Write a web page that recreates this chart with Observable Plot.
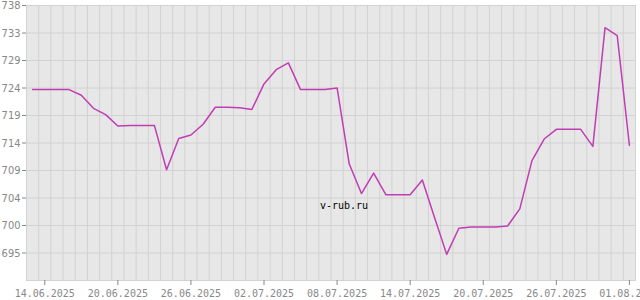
<!DOCTYPE html>
<html>
<head>
<meta charset="utf-8">
<script src="https://cdn.jsdelivr.net/npm/d3@7"></script>
<script src="https://cdn.jsdelivr.net/npm/@observablehq/plot@0.6"></script>
<style>
  html, body { margin: 0; padding: 0; background: white; }
</style>
</head>
<body>
<div id="chart"></div>
<script>
// Daily dates (13.06.2025 – 01.08.2025)
const dates = [
  "2025-06-13","2025-06-14","2025-06-15","2025-06-16","2025-06-17","2025-06-18","2025-06-19","2025-06-20",
  "2025-06-21","2025-06-22","2025-06-23","2025-06-24","2025-06-25","2025-06-26","2025-06-27","2025-06-28",
  "2025-06-29","2025-06-30","2025-07-01","2025-07-02","2025-07-03","2025-07-04","2025-07-05","2025-07-06",
  "2025-07-07","2025-07-08","2025-07-09","2025-07-10","2025-07-11","2025-07-12","2025-07-13","2025-07-14",
  "2025-07-15","2025-07-16","2025-07-17","2025-07-18","2025-07-19","2025-07-20","2025-07-21","2025-07-22",
  "2025-07-23","2025-07-24","2025-07-25","2025-07-26","2025-07-27","2025-07-28","2025-07-29","2025-07-30",
  "2025-07-31","2025-08-01"
];
// Values
const values = [
  723.5, 723.5, 723.5, 723.5, 722.5, 720.2, 719.1, 717.1,
  717.2, 717.2, 717.2, 709.4, 714.9, 715.5, 717.4, 720.4,
  720.4, 720.3, 720.0, 724.5, 727.0, 728.2, 723.5, 723.5,
  723.5, 723.8, 710.4, 705.2, 708.8, 705.0, 705.0, 705.0,
  707.6, 701.0, 694.5, 699.1, 699.3, 699.3, 699.3, 699.5,
  702.5, 711.0, 714.8, 716.5, 716.5, 716.5, 713.5, 734.4,
  733.0, 713.7
];
// X tick labels
const xTicks = ["2025-06-14","2025-06-20","2025-06-26","2025-07-02","2025-07-08","2025-07-14","2025-07-20","2025-07-26","2025-08-01"];
// Y ticks (labels shown rounded)
const yTicks = [738.3, 733.46, 728.62, 723.78, 718.94, 714.1, 709.26, 704.42, 699.58, 694.74];
const yDomain = [689.9, 738.3];
const watermark = ["v-rub.ru"];

const parse = d3.utcParse("%Y-%m-%d");
const data = dates.map((d, i) => ({date: parse(d), value: values[i]}));
const xStart = d3.utcHour.offset(data[0].date, -12);
const xEnd = d3.utcHour.offset(data[data.length - 1].date, 12);
const gridDates = data.slice(0, -1).map(d => d3.utcHour.offset(d.date, 12));

const chart = Plot.plot({
  width: 640,
  height: 300,
  marginTop: 5,
  marginRight: 5,
  marginBottom: 20,
  marginLeft: 26,
  style: {background: "white", fontFamily: "'DejaVu Sans Mono', monospace"},
  x: {type: "utc", domain: [xStart, xEnd]},
  y: {domain: yDomain},
  marks: [
    Plot.frame({fill: "#e7e7e7", stroke: null}),
    Plot.ruleX(gridDates, {stroke: "#d2d2d2", strokeWidth: 1}),
    Plot.ruleY(yTicks, {stroke: "#d2d2d2", strokeWidth: 1}),
    Plot.frame({stroke: "#d2d2d2", fill: null}),
    Plot.axisX(xTicks.map(parse), {
      tickFormat: d3.utcFormat("%d.%m.%Y"),
      tickSize: 5, tickPadding: 4, color: "#888888", label: null,
      fontFamily: "'DejaVu Sans Mono', monospace", fontSize: 10
    }),
    Plot.axisY(yTicks, {
      tickFormat: d => d.toFixed(0),
      tickSize: 4, tickPadding: 2, color: "#888888", label: null,
      fontFamily: "'Liberation Sans Narrow', 'DejaVu Sans Condensed', sans-serif", fontSize: 11
    }),
    Plot.line(data, {x: "date", y: "value", stroke: "#c03db4", strokeWidth: 1.5}),
    Plot.text(watermark, {
      text: d => d, frameAnchor: "middle", dx: 13, dy: 63,
      fontFamily: "'DejaVu Sans Mono', monospace", fontSize: 10, fill: "black"
    })
  ]
});
document.getElementById("chart").appendChild(chart);
</script>
</body>
</html>
